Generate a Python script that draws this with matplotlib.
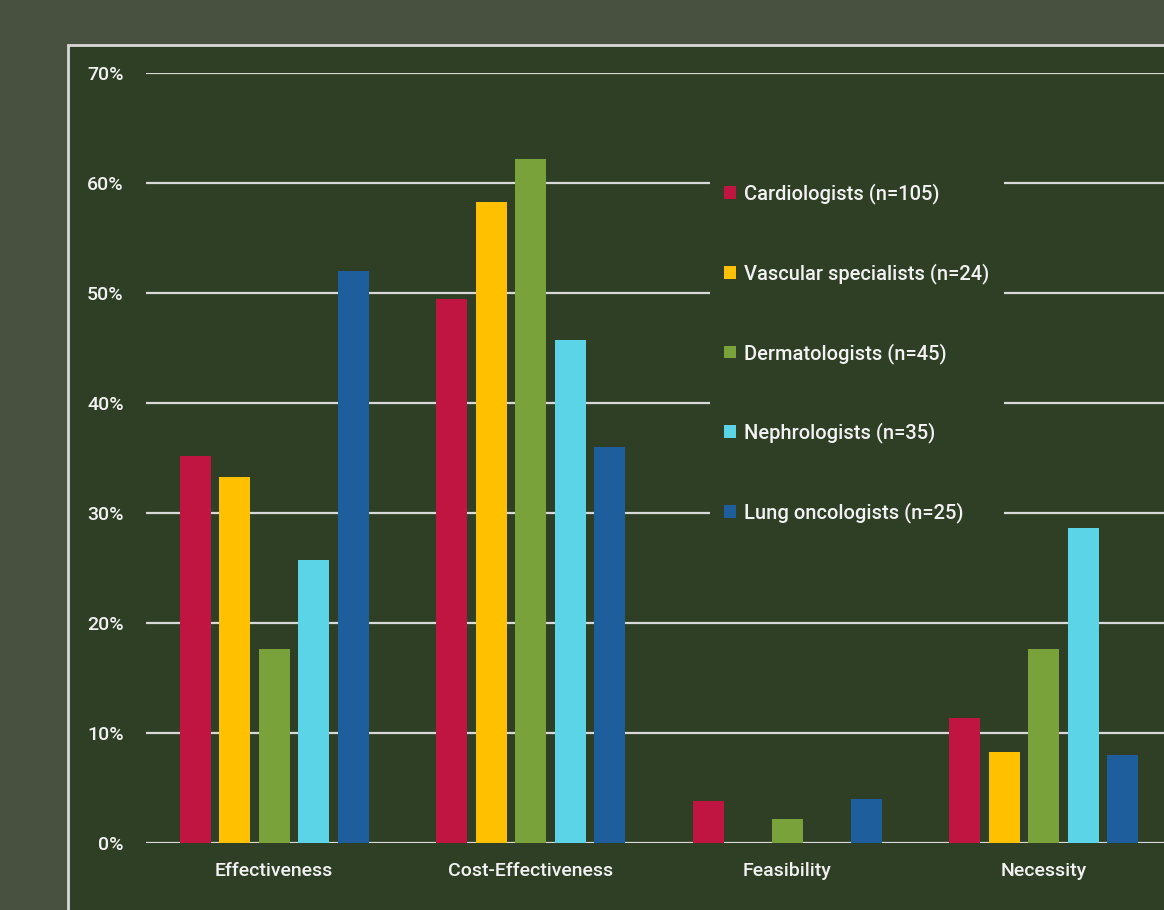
import numpy as np
import matplotlib.pyplot as plt
from matplotlib.patches import Rectangle

categories = ['Effectiveness', 'Cost-Effectiveness', 'Feasibility', 'Necessity']
groups = ['Cardiologists (n=105)', 'Vascular specialists (n=24)', 'Dermatologists (n=45)',
          'Nephrologists (n=35)', 'Lung oncologists (n=25)']
cardio = [35.2, 49.5, 3.8, 11.4]
vascular = [33.3, 58.3, 0.0, 8.3]
derma = [17.6, 62.2, 2.2, 17.6]
nephro = [25.7, 45.7, 0.0, 28.6]
lung = [52.0, 36.0, 4.0, 8.0]
series = [cardio, vascular, derma, nephro, lung]
colors = ['#BF1540', '#FFC000', '#7AA23B', '#5AD4E6', '#1F5E9C']

outer = '#485040'
inner = '#2E3F25'
txt = '#F2F2F2'

plt.rcParams['font.family'] = ['Roboto', 'DejaVu Sans']
plt.rcParams['font.weight'] = 'medium'

fig = plt.figure(figsize=(11.64, 9.10), dpi=100)
fig.patch.set_facecolor(outer)

# dark panel with light border
fig.patches.append(Rectangle((68/1164, -0.1), 1.2, 0.1 + (910-45)/910,
                             transform=fig.transFigure, facecolor=inner,
                             edgecolor='#D8D8D8', linewidth=2, zorder=-10))

ax = fig.add_axes([146/1164, (910-843)/910, 1026/1164, 770/910])
ax.set_zorder(5)
ax.set_facecolor('none')

x = np.arange(len(categories))
pitch = 0.154
width = 0.121
for i, (vals, c, name) in enumerate(zip(series, colors, groups)):
    ax.bar(x + (i - 2) * pitch, vals, width, color=c, label=name, zorder=3)

ax.set_xlim(-0.5, 3.5)
ax.set_ylim(0, 70)
ax.set_yticks(np.arange(0, 71, 10))
ax.set_yticklabels([f'{v}%' for v in range(0, 71, 10)])
ax.set_xticks(x)
ax.set_xticklabels(categories)
ax.grid(axis='y', color='#D9D9D9', linewidth=1.6, zorder=1)
ax.set_axisbelow(True)
for s in ax.spines.values():
    s.set_visible(False)
ax.tick_params(axis='both', length=0, colors=txt)
ax.tick_params(axis='y', pad=16, labelsize=14)
ax.tick_params(axis='x', pad=14, labelsize=14)

leg = ax.legend(loc='upper left', bbox_to_anchor=(0.540, 0.888), frameon=True,
                facecolor=inner, edgecolor='none', framealpha=1,
                handlelength=0.6, handleheight=0.6, handletextpad=0.4,
                labelspacing=2.92, fontsize=14.5, borderpad=0.7)
for t in leg.get_texts():
    t.set_color(txt)

fig.savefig('out.png', dpi=100, facecolor=outer)
